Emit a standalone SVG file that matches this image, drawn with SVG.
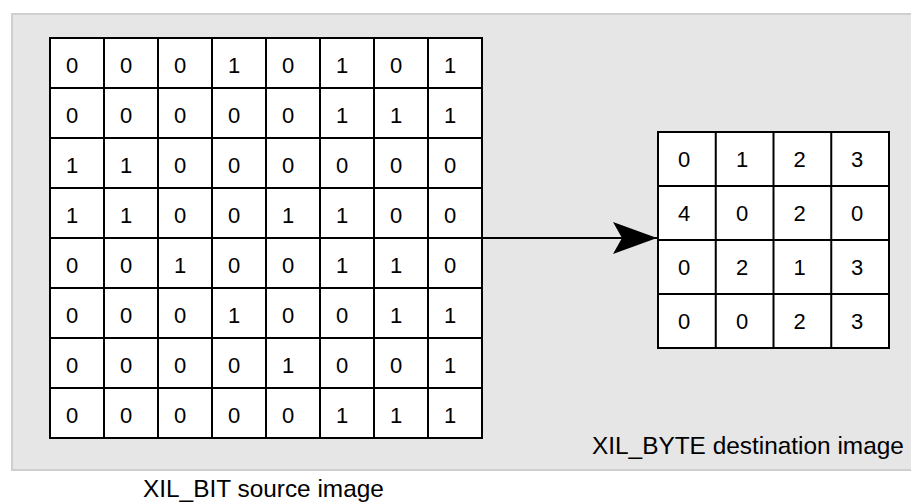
<svg xmlns="http://www.w3.org/2000/svg" width="911" height="502" viewBox="0 0 911 502">
<style>
.grid{fill:#ffffff;stroke:#000000;stroke-width:2}
.gl{stroke:#000000;stroke-width:2}
.d{font-family:"Liberation Sans",Arial,sans-serif;font-size:22px;fill:#000000}
.lbl{font-family:"Liberation Sans",Arial,sans-serif;font-size:24.4px;fill:#000000}
</style>
<defs>
<marker id="ah" markerUnits="userSpaceOnUse" markerWidth="46" markerHeight="34" refX="44" refY="17" orient="auto">
<path d="M44,17 L0,1 L9,17 L0,33 Z" fill="#000000"/>
</marker>
</defs>
<rect x="12" y="14" width="900" height="456" fill="#e6e6e6" stroke="#cfcfcf" stroke-width="2"/>
<g id="source-image">
<rect class="grid" x="50" y="38" width="432" height="400"/>
<path class="gl" d="M104,38V438M158,38V438M212,38V438M266,38V438M320,38V438M374,38V438M428,38V438M50,88H482M50,138H482M50,188H482M50,238H482M50,288H482M50,338H482M50,388H482"/>
<g class="d">
<text x="66" y="73">0</text><text x="120" y="73">0</text><text x="174" y="73">0</text><text x="228" y="73">1</text><text x="282" y="73">0</text><text x="336" y="73">1</text><text x="390" y="73">0</text><text x="444" y="73">1</text>
<text x="66" y="123">0</text><text x="120" y="123">0</text><text x="174" y="123">0</text><text x="228" y="123">0</text><text x="282" y="123">0</text><text x="336" y="123">1</text><text x="390" y="123">1</text><text x="444" y="123">1</text>
<text x="66" y="173">1</text><text x="120" y="173">1</text><text x="174" y="173">0</text><text x="228" y="173">0</text><text x="282" y="173">0</text><text x="336" y="173">0</text><text x="390" y="173">0</text><text x="444" y="173">0</text>
<text x="66" y="223">1</text><text x="120" y="223">1</text><text x="174" y="223">0</text><text x="228" y="223">0</text><text x="282" y="223">1</text><text x="336" y="223">1</text><text x="390" y="223">0</text><text x="444" y="223">0</text>
<text x="66" y="273">0</text><text x="120" y="273">0</text><text x="174" y="273">1</text><text x="228" y="273">0</text><text x="282" y="273">0</text><text x="336" y="273">1</text><text x="390" y="273">1</text><text x="444" y="273">0</text>
<text x="66" y="323">0</text><text x="120" y="323">0</text><text x="174" y="323">0</text><text x="228" y="323">1</text><text x="282" y="323">0</text><text x="336" y="323">0</text><text x="390" y="323">1</text><text x="444" y="323">1</text>
<text x="66" y="373">0</text><text x="120" y="373">0</text><text x="174" y="373">0</text><text x="228" y="373">0</text><text x="282" y="373">1</text><text x="336" y="373">0</text><text x="390" y="373">0</text><text x="444" y="373">1</text>
<text x="66" y="423">0</text><text x="120" y="423">0</text><text x="174" y="423">0</text><text x="228" y="423">0</text><text x="282" y="423">0</text><text x="336" y="423">1</text><text x="390" y="423">1</text><text x="444" y="423">1</text>
</g>
</g>
<g id="destination-image">
<rect class="grid" x="658" y="132" width="231" height="216"/>
<path class="gl" d="M715.75,132V348M773.5,132V348M831.25,132V348M658,186H889M658,240H889M658,294H889"/>
<g class="d">
<text x="678" y="167">0</text><text x="736" y="167">1</text><text x="793.5" y="167">2</text><text x="851" y="167">3</text>
<text x="678" y="221">4</text><text x="736" y="221">0</text><text x="793.5" y="221">2</text><text x="851" y="221">0</text>
<text x="678" y="275">0</text><text x="736" y="275">2</text><text x="793.5" y="275">1</text><text x="851" y="275">3</text>
<text x="678" y="329">0</text><text x="736" y="329">0</text><text x="793.5" y="329">2</text><text x="851" y="329">3</text>
</g>
</g>
<g id="label-destination"><text class="lbl" x="592" y="454">XIL_BYTE destination image</text></g>
<g id="label-source"><text class="lbl" x="143" y="497">XIL_BIT source image</text></g>
<g id="connectors">
<line x1="482" y1="238" x2="657" y2="238" stroke="#000000" stroke-width="2" marker-end="url(#ah)"/>
</g>
</svg>
